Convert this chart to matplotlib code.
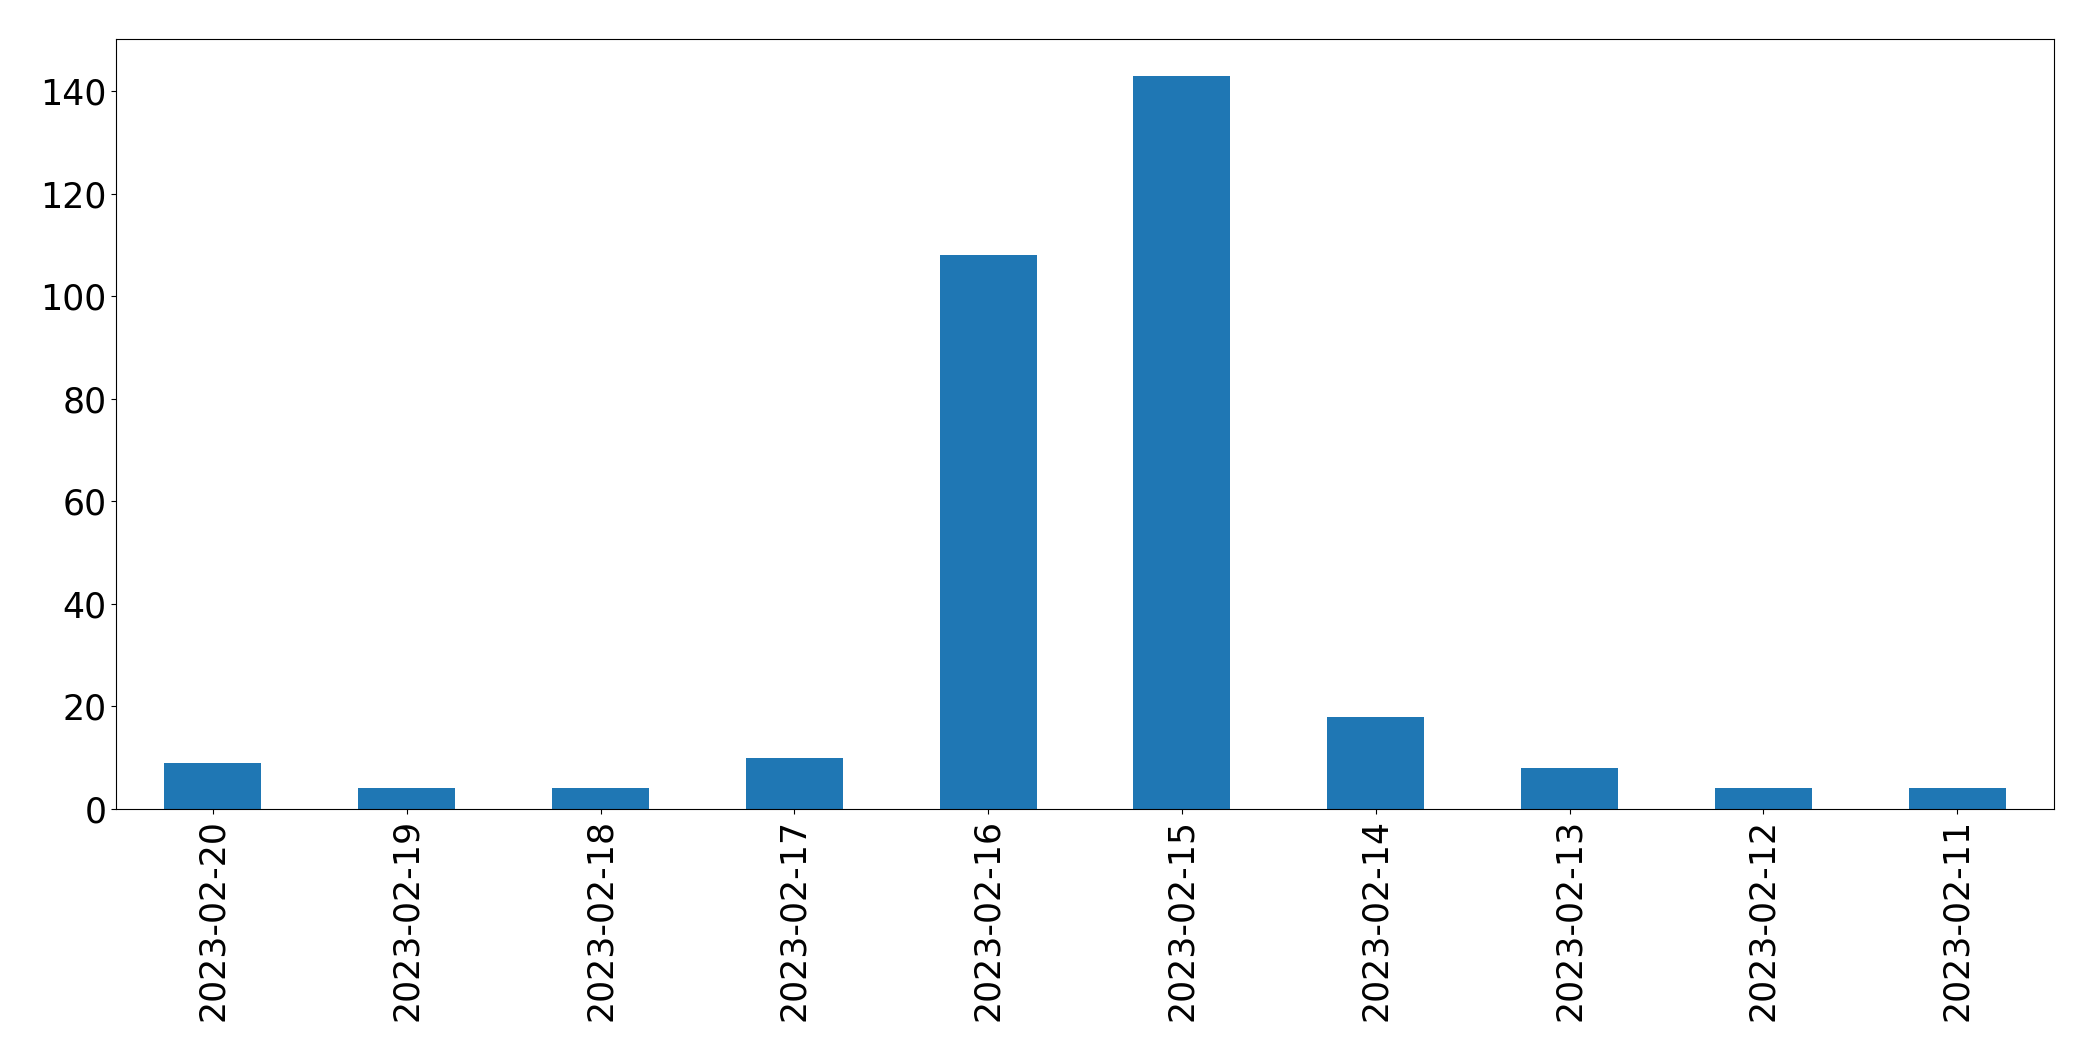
import matplotlib
matplotlib.use("Agg")
import matplotlib.pyplot as plt
import numpy as np

# daily counts, newest first
dates = ["2023-02-20", "2023-02-19", "2023-02-18", "2023-02-17", "2023-02-16",
         "2023-02-15", "2023-02-14", "2023-02-13", "2023-02-12", "2023-02-11"]
counts = [9, 4, 4, 10, 108, 143, 18, 8, 4, 4]

fig, ax = plt.subplots(figsize=(20.93, 10.61), dpi=100)
fig.subplots_adjust(left=116/2093, right=2054/2093, top=1-39/1061, bottom=1-809/1061)

x = np.arange(len(dates))
ax.bar(x, counts, width=0.5, color="#1f77b4")
ax.set_xlim(-0.5, len(dates) - 0.5)
ax.set_xticks(x)
ax.set_xticklabels(dates, rotation=90)
ax.tick_params(axis="both", labelsize=25)

fig.savefig("out.png", dpi=100)
